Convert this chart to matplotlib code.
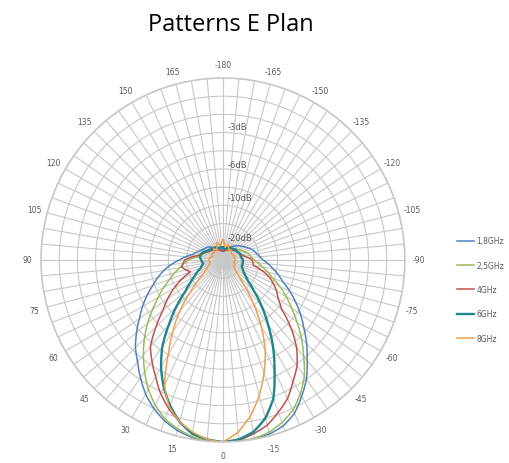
import numpy as np
import matplotlib.pyplot as plt

# antenna E-plane patterns, normalised amplitude (1 = 0 dB)
# 10 deg steps at the back, 5 deg steps across the main lobe
angles = (list(range(-180, -60, 10)) + list(range(-60, 61, 5))
          + list(range(70, 181, 10)))

r_1g8 = [0.06, 0.06, 0.07, 0.08, 0.10, 0.12, 0.14, 0.17, 0.19, 0.22, 0.28, 0.35,
         0.46, 0.52, 0.58, 0.65, 0.72, 0.80, 0.865, 0.93, 0.97, 0.99, 0.997, 1.0,
         1.0, 1.0, 0.99, 0.97, 0.94, 0.90, 0.85, 0.79, 0.73, 0.68, 0.62, 0.56, 0.51,
         0.41, 0.33, 0.24, 0.17, 0.14, 0.12, 0.11, 0.09, 0.08, 0.07, 0.06, 0.06]
r_2g5 = [0.05, 0.05, 0.06, 0.07, 0.08, 0.09, 0.11, 0.13, 0.15, 0.17, 0.22, 0.29,
         0.40, 0.46, 0.53, 0.61, 0.69, 0.78, 0.85, 0.91, 0.95, 0.98, 0.995, 1.0,
         1.0, 0.998, 0.985, 0.96, 0.93, 0.88, 0.82, 0.75, 0.68, 0.61, 0.54, 0.47, 0.41,
         0.31, 0.24, 0.19, 0.12, 0.11, 0.10, 0.09, 0.08, 0.07, 0.06, 0.05, 0.05]
r_4g = [0.05, 0.05, 0.06, 0.06, 0.07, 0.08, 0.09, 0.10, 0.12, 0.16, 0.17, 0.27,
        0.34, 0.37, 0.42, 0.53, 0.63, 0.71, 0.77, 0.84, 0.89, 0.94, 0.97, 0.995,
        1.0, 0.99, 0.97, 0.92, 0.87, 0.81, 0.74, 0.68, 0.62, 0.52, 0.43, 0.37, 0.31,
        0.19, 0.23, 0.21, 0.14, 0.11, 0.09, 0.08, 0.07, 0.06, 0.06, 0.05, 0.05]
r_6g = [0.07, 0.06, 0.07, 0.08, 0.08, 0.09, 0.09, 0.10, 0.10, 0.11, 0.11, 0.11,
        0.13, 0.15, 0.18, 0.24, 0.33, 0.43, 0.55, 0.67, 0.81, 0.90, 0.96, 0.99,
        1.0, 0.99, 0.97, 0.92, 0.85, 0.77, 0.68, 0.58, 0.46, 0.36, 0.27, 0.22, 0.18,
        0.13, 0.11, 0.12, 0.13, 0.12, 0.10, 0.09, 0.08, 0.08, 0.07, 0.07, 0.07]
r_8g = [0.11, 0.07, 0.09, 0.06, 0.07, 0.06, 0.06, 0.07, 0.06, 0.07, 0.06, 0.07,
        0.07, 0.08, 0.09, 0.12, 0.18, 0.29, 0.42, 0.55, 0.66, 0.77, 0.87, 0.95,
        1.0, 0.99, 0.96, 0.92, 0.86, 0.76, 0.60, 0.48, 0.37, 0.26, 0.18, 0.13, 0.11,
        0.08, 0.07, 0.08, 0.07, 0.06, 0.07, 0.06, 0.08, 0.06, 0.10, 0.08, 0.11]

series = [("1,8GHz", r_1g8, "#4F81BD", 1.1),
          ("2,5GHz", r_2g5, "#9BBB59", 1.1),
          ("4GHz", r_4g, "#C0504D", 1.1),
          ("6GHz", r_6g, "#1F868C", 1.7),
          ("8GHz", r_8g, "#EE9F4E", 1.1)]

db_labels = [-3, -6, -10, -20]
grid_col = "#c8c8c8"
txt_col = "#595959"

fig = plt.figure(figsize=(5.09, 4.64), dpi=100)
ax = fig.add_axes([0.0805, 0.0453, 0.715, 0.7845], projection="polar")
ax.set_theta_zero_location("S")
ax.set_theta_direction(-1)
ax.set_ylim(0, 1)

ax.set_thetagrids(np.arange(0, 360, 5), labels=[])
ax.set_rgrids(np.arange(0.1, 1.01, 0.1), labels=[])
ax.grid(True, color=grid_col, linewidth=0.8)
ax.spines["polar"].set_color(grid_col)
ax.spines["polar"].set_linewidth(1.2)
ax.tick_params(length=0)

th = np.deg2rad(angles)
for name, r, col, lw in series:
    line, = ax.plot(th, r, color=col, linewidth=lw, label=name)
    # let the polar transform draw each segment as a curve in (theta, r)
    line.get_path()._interpolation_steps = 30

for a in range(-180, 180, 15):
    ax.text(np.deg2rad(a), 1.075, str(a), ha="center", va="center",
            fontsize=5.5, color=txt_col)

for d in db_labels:
    ax.annotate(f"{d}dB", xy=(np.pi, 10 ** (d / 20)), xytext=(3, 0),
                textcoords="offset points", ha="left", va="bottom",
                fontsize=6, color=txt_col)

fig.text(0.454, 0.946, "Patterns E Plan", ha="center", va="center",
         fontsize=17, family="Open Sans")

leg = fig.legend(loc="center left", bbox_to_anchor=(0.885, 0.374), frameon=False,
                 fontsize=5.5, handlelength=2.2, labelspacing=2.0, handletextpad=0.3)
for t in leg.get_texts():
    t.set_color(txt_col)

fig.savefig("out.png", dpi=100)
